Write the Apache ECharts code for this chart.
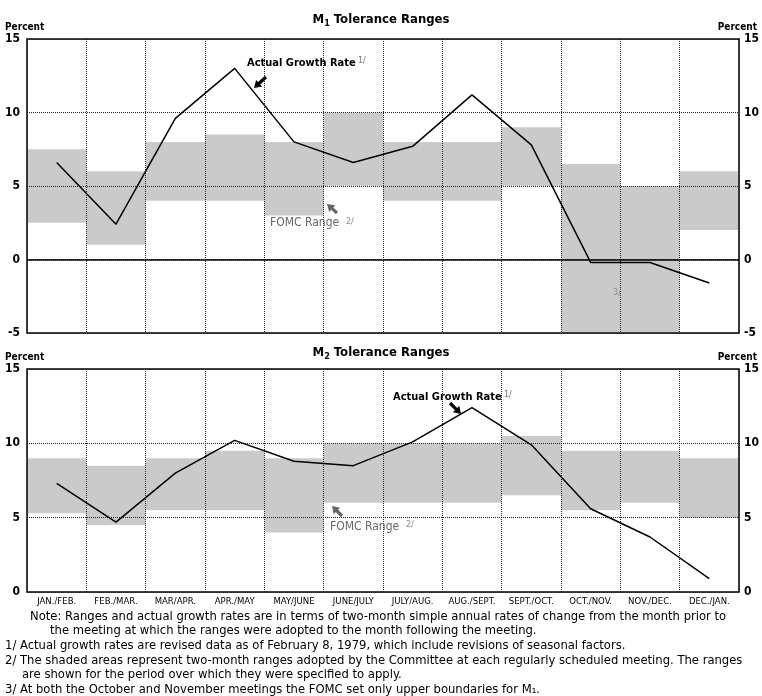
<!DOCTYPE html>
<html><head><meta charset="utf-8">
<script src="https://cdn.jsdelivr.net/npm/echarts@6/dist/echarts.min.js"></script>
<style>html,body{margin:0;padding:0;background:#fff}#c{width:762px;height:696px}</style>
</head><body><div id="c"></div>
<script>
const categories = ['JAN./FEB.','FEB./MAR.','MAR/APR.','APR./MAY','MAY/JUNE','JUNE/JULY','JULY/AUG.','AUG./SEPT.','SEPT./OCT.','OCT./NOV.','NOV./DEC.','DEC./JAN.'];
const m1Actual    = [6.6, 2.4, 9.6, 13.0, 8.0, 6.6, 7.7, 11.2, 7.8, -0.2, -0.2, -1.6];
const m1RangeLow  = [2.5, 1.0, 4.0, 4.0, 3.0, 5.0, 4.0, 4.0, 5.0, -5, -5, 2.0];
const m1RangeHigh = [7.5, 6.0, 8.0, 8.5, 8.0, 10.0, 8.0, 8.0, 9.0, 6.5, 5.0, 6.0];
const m2Actual    = [7.3, 4.7, 8.0, 10.2, 8.8, 8.5, 10.1, 12.4, 9.9, 5.6, 3.7, 0.9];
const m2RangeLow  = [5.3, 4.5, 5.5, 5.5, 4.0, 6.0, 6.0, 6.0, 6.5, 5.5, 6.0, 5.0];
const m2RangeHigh = [9.0, 8.5, 9.0, 9.5, 9.0, 10.0, 10.0, 10.0, 10.5, 9.5, 9.5, 9.0];
const m1Ticks = [-5, 15, 5];
const m2Ticks = [0, 15, 5];
const footnotes = [
  'Note: Ranges and actual growth rates are in terms of two-month simple annual rates of change from the month prior to',
  'the meeting at which the ranges were adopted to the month following the meeting.',
  '1/ Actual growth rates are revised data as of February 8, 1979, which include revisions of seasonal factors.',
  '2/ The shaded areas represent two-month ranges adopted by the Committee at each regularly scheduled meeting. The ranges',
  'are shown for the period over which they were specified to apply.',
  '3/ At both the October and November meetings the FOMC set only upper boundaries for M\u2081.'
];

const chart = echarts.init(document.getElementById('c'), null, {renderer:'canvas'});
const COND = '"DejaVu Sans Condensed", "DejaVu Sans", sans-serif';
const SHADE = 'rgba(60,60,60,0.27)';

function rangeItem(params, api) {
  const i = api.value(0);
  const top = api.coord([i, api.value(2)]);
  const bot = api.coord([i, api.value(1)]);
  const w = api.size([1, 0])[0];
  return {type:'rect', shape:{x: top[0]-w/2, y: top[1], width: w, height: bot[1]-top[1]},
          style:{fill: SHADE}};
}
function rangeData(lo, hi){ return categories.map((c,i)=>[i, lo[i], hi[i]]); }

function arrow(x1, y1, x2, y2, color) {
  const dx = x2-x1, dy = y2-y1, L = Math.hypot(dx,dy);
  const ux = dx/L, uy = dy/L, px = -uy, py = ux;
  const hl = 7, hw = 4.5, sw = 1.6;
  const bx = x2-ux*hl, by = y2-uy*hl;
  const pts = [
    [x1+px*sw, y1+py*sw], [bx+px*sw, by+py*sw], [bx+px*hw, by+py*hw], [x2, y2],
    [bx-px*hw, by-py*hw], [bx-px*sw, by-py*sw], [x1-px*sw, y1-py*sw]
  ];
  return {type:'polygon', shape:{points: pts}, style:{fill: color}, z: 100};
}

function txt(x, y, text, opts) {
  return Object.assign({type:'text', x, y, z: 100, style: Object.assign({
    text, fill:'#000', font: '9px "DejaVu Sans", sans-serif', textVerticalAlign:'middle'
  }, opts || {})});
}

const titleRich = {
  a: {fontFamily: COND, fontWeight:'bold', fontSize: 13, color:'#000'},
  s: {fontFamily: COND, fontWeight:'bold', fontSize: 9, color:'#000', padding:[8,0,0,0]}
};

function yAx(grid, pos, ticks, split) {
  return {
    type:'value', gridIndex: grid, position: pos, min: ticks[0], max: ticks[1], interval: ticks[2],
    axisLine:{show:false}, axisTick:{show:false},
    axisLabel:{color:'#000', fontFamily: COND, fontWeight:'bold', fontSize: 12, margin: pos==='left'?7:5},
    splitLine:{show: split, lineStyle:{type:'dotted', color:'#222', width:1}}
  };
}
function xAx(grid, labels) {
  return {
    type:'category', gridIndex: grid, data: categories, boundaryGap: true,
    axisLine:{show:false}, axisTick:{show:false},
    axisLabel:{show: labels, interval:0, color:'#000', fontFamily: COND, fontSize: 9.5, margin: 5},
    splitLine:{show:true, interval:0, lineStyle:{type:'dotted', color:'#222', width:1}}
  };
}

const FN = '11.6px "DejaVu Sans", sans-serif';
const graphics = [
  {type:'text', left:'center', top: 13, z:100, style:{text:'{a|M}{s|1}{a| Tolerance Ranges}', rich: titleRich}},
  {type:'text', left:'center', top: 346, z:100, style:{text:'{a|M}{s|2}{a| Tolerance Ranges}', rich: titleRich}},
  txt(5, 27, 'Percent', {font:'bold 10px ' + COND}),
  txt(757, 27, 'Percent', {font:'bold 10px ' + COND, textAlign:'right'}),
  txt(5, 357, 'Percent', {font:'bold 10px ' + COND}),
  txt(757, 357, 'Percent', {font:'bold 10px ' + COND, textAlign:'right'}),
  // M1 annotations
  txt(247, 63, 'Actual Growth Rate', {font:'bold 11px ' + COND}),
  txt(358, 61, '1/', {font:'8px "DejaVu Sans", sans-serif', fill:'#777'}),
  arrow(266, 77, 254, 88, '#000'),
  txt(270, 223, 'FOMC Range', {font:'12px ' + COND, fill:'#666'}),
  txt(346, 222, '2/', {font:'8px "DejaVu Sans", sans-serif', fill:'#888'}),
  arrow(337, 213, 327, 204, '#666'),
  txt(617, 293, '3/', {font:'8px "DejaVu Sans", sans-serif', fill:'#888', textAlign:'center'}),
  // M2 annotations
  txt(393, 397, 'Actual Growth Rate', {font:'bold 11px ' + COND}),
  txt(504, 395, '1/', {font:'8px "DejaVu Sans", sans-serif', fill:'#777'}),
  arrow(450, 403, 461, 414, '#000'),
  txt(330, 527, 'FOMC Range', {font:'12px ' + COND, fill:'#666'}),
  txt(406, 525, '2/', {font:'8px "DejaVu Sans", sans-serif', fill:'#888'}),
  arrow(342, 516, 332, 506, '#666')
];
const fnX = [30, 50, 5, 5, 22, 5];
const fnY = [617, 631, 646, 661, 675, 690];
footnotes.forEach((t, i) => graphics.push(txt(fnX[i], fnY[i], t, {font: FN})));

chart.setOption({
  animation: false,
  backgroundColor: '#fff',
  grid: [
    {left: 27, right: 20, top: 39, height: 294, show: true, borderColor:'#000', borderWidth: 1.5, backgroundColor:'transparent'},
    {left: 27, right: 20, top: 369, height: 223, show: true, borderColor:'#000', borderWidth: 1.5, backgroundColor:'transparent'}
  ],
  xAxis: [xAx(0, false), xAx(1, true)],
  yAxis: [yAx(0,'left',m1Ticks,true), yAx(0,'right',m1Ticks,false), yAx(1,'left',m2Ticks,true), yAx(1,'right',m2Ticks,false)],
  series: [
    {type:'custom', name:'M1 FOMC Range', xAxisIndex:0, yAxisIndex:0, renderItem: rangeItem,
     data: rangeData(m1RangeLow, m1RangeHigh), encode:{x:0, y:[1,2]}, z:1, silent:true},
    {type:'line', name:'M1 Actual', xAxisIndex:0, yAxisIndex:0, data: m1Actual, symbol:'none',
     lineStyle:{color:'#000', width:1.5}, z:5, silent:true,
     markLine:{silent:true, symbol:'none', label:{show:false}, lineStyle:{color:'#000', type:'solid', width:1.5},
       data:[{yAxis:0}]}},
    {type:'custom', name:'M2 FOMC Range', xAxisIndex:1, yAxisIndex:2, renderItem: rangeItem,
     data: rangeData(m2RangeLow, m2RangeHigh), encode:{x:0, y:[1,2]}, z:1, silent:true},
    {type:'line', name:'M2 Actual', xAxisIndex:1, yAxisIndex:2, data: m2Actual, symbol:'none',
     lineStyle:{color:'#000', width:1.5}, z:5, silent:true}
  ],
  graphic: graphics
});
</script></body></html>
